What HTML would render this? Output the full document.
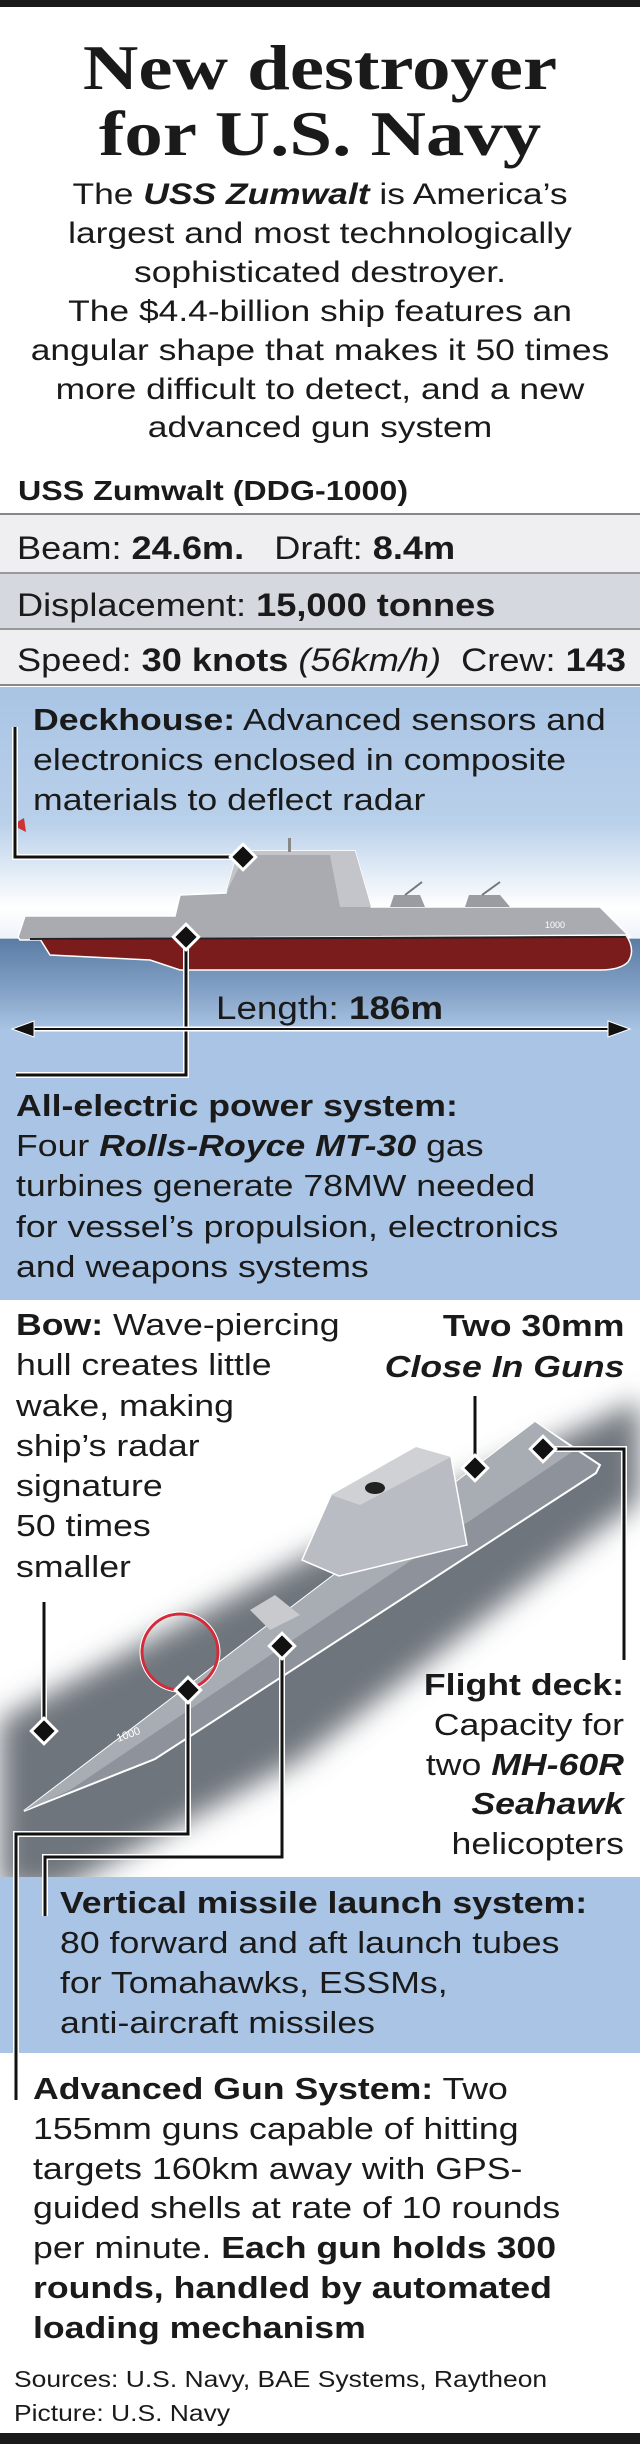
<!DOCTYPE html>
<html><head><meta charset="utf-8"><style>
body{margin:0;background:#fff;}
#w{position:relative;width:640px;height:2444px;overflow:hidden;font-family:"Liberation Sans",sans-serif;color:#1a1a1a;}
.t{position:absolute;white-space:nowrap;line-height:1;}
.r{font-size:32px;transform:scaleX(1.13);transform-origin:0 0;}
.L{transform:scaleX(1.15);transform-origin:0 0;}
.R{transform:scaleX(1.15);transform-origin:100% 0;}
b{font-weight:bold;}
</style></head><body><div id="w">
<svg width="640" height="2444" style="position:absolute;left:0;top:0">
<defs>
<linearGradient id="sky" x1="0" y1="687" x2="0" y2="1300" gradientUnits="userSpaceOnUse">
<stop offset="0" stop-color="#a9c4e4"/><stop offset="0.22" stop-color="#b9d0ea"/><stop offset="0.36" stop-color="#ffffff"/><stop offset="0.41" stop-color="#eef3fa"/><stop offset="0.411" stop-color="#5a7ca4"/><stop offset="0.5" stop-color="#86a4c8"/><stop offset="0.56" stop-color="#a9c4e4"/><stop offset="1" stop-color="#a9c4e4"/>
</linearGradient>
<filter id="bl"><feGaussianBlur stdDeviation="14"/></filter>
</defs>
<rect x="0" y="0" width="640" height="7" fill="#1a1a1a"/>
<rect x="0" y="513" width="640" height="2" fill="#888"/>
<rect x="0" y="515" width="640" height="57" fill="#efeff1"/>
<rect x="0" y="572" width="640" height="2" fill="#999"/>
<rect x="0" y="574" width="640" height="54" fill="#d5d8df"/>
<rect x="0" y="628" width="640" height="2" fill="#999"/>
<rect x="0" y="630" width="640" height="54" fill="#efeff1"/>
<rect x="0" y="684" width="640" height="2" fill="#888"/>
<rect x="0" y="687" width="640" height="613" fill="url(#sky)"/>
<polygon points="18,937 25,916 175,916 180,895 226,893 238,851 355,851 371,907 600,907 630,937 20,940" fill="#a9abb0" stroke="#fff" stroke-width="1.5"/>
<polygon points="226,893 238,851 355,851 371,907 340,907 330,855 245,855" fill="#c3c5ca"/>
<rect x="288" y="838" width="3" height="14" fill="#888"/>
<polygon points="390,907 394,895 420,895 425,907" fill="#9a9ca2"/>
<polygon points="465,907 469,895 500,895 510,907" fill="#9a9ca2"/>
<line x1="405" y1="895" x2="422" y2="882" stroke="#777" stroke-width="2"/>
<line x1="482" y1="895" x2="500" y2="882" stroke="#777" stroke-width="2"/>
<path d="M40,939 L626,935 Q636,950 628,962 Q620,970 600,970 L180,970 L150,960 L50,955 Z" fill="#7a1c1c" stroke="#fff" stroke-width="1.5"/>
<line x1="30" y1="939" x2="625" y2="937" stroke="#222" stroke-width="2"/>
<polygon points="12,825 24,818 26,832" fill="#c33"/>
<text x="545" y="928" font-size="9" fill="#fff" font-family="Liberation Sans">1000</text>
<polyline points="15,727 15,857 243,857" fill="none" stroke="#fff" stroke-width="6"/>
<polyline points="15,727 15,857 243,857" fill="none" stroke="#111" stroke-width="3"/>
<rect x="234" y="848" width="18" height="18" transform="rotate(45 243 857)" fill="#111" stroke="#fff" stroke-width="3"/>
<polyline points="186,937 186,1075 16,1075" fill="none" stroke="#fff" stroke-width="6"/>
<polyline points="186,937 186,1075 16,1075" fill="none" stroke="#111" stroke-width="3"/>
<rect x="177" y="928" width="18" height="18" transform="rotate(45 186 937)" fill="#111" stroke="#fff" stroke-width="3"/>
<line x1="22" y1="1029" x2="620" y2="1029" stroke="#fff" stroke-width="5"/>
<line x1="22" y1="1029" x2="620" y2="1029" stroke="#111" stroke-width="2"/>
<polygon points="12,1029 34,1021 34,1037" fill="#111" stroke="#fff" stroke-width="1"/>
<polygon points="630,1029 608,1021 608,1037" fill="#111" stroke="#fff" stroke-width="1"/>
<polygon points="640,1400 640,1500 560,1560 300,1760 60,1890 0,1890 0,1720 300,1560" fill="#6e747c" filter="url(#bl)"/>
<polygon points="24,1811 535,1422 600,1465 596,1473 155,1759" fill="#8e939b" stroke="#fff" stroke-width="2"/>
<polygon points="24,1811 535,1422 575,1450 70,1790" fill="#a8acb3"/>
<polygon points="302,1560 331,1495 416,1447 451,1457 467,1545 339,1576" fill="#b9bcc2" stroke="#fff" stroke-width="1.5"/>
<polygon points="331,1495 416,1447 451,1457 360,1505" fill="#cfd1d5"/>
<ellipse cx="375" cy="1488" rx="10" ry="6" fill="#222"/>
<polygon points="250,1610 275,1595 300,1615 270,1630" fill="#c8cace"/>
<text x="118" y="1742" font-size="11" fill="#fff" font-family="Liberation Sans" transform="rotate(-20 118 1742)">1000</text>
<circle cx="180" cy="1652" r="38" fill="none" stroke="#d52a3a" stroke-width="3"/>
<circle cx="180" cy="1652" r="40" fill="none" stroke="#fff" stroke-width="1"/>
<g fill="none">
<polyline points="475,1396 475,1468" stroke="#fff" stroke-width="6"/><polyline points="475,1396 475,1468" stroke="#111" stroke-width="3"/>
<polyline points="543,1449 624,1449 624,1660" stroke="#fff" stroke-width="6"/><polyline points="543,1449 624,1449 624,1660" stroke="#111" stroke-width="3"/>
<polyline points="44,1602 44,1731" stroke="#fff" stroke-width="6"/><polyline points="44,1602 44,1731" stroke="#111" stroke-width="3"/>
<polyline points="188,1690 188,1834 16,1834 16,2100" stroke="#fff" stroke-width="6"/><polyline points="188,1690 188,1834 16,1834 16,2100" stroke="#111" stroke-width="3"/>
</g>
<rect x="0" y="1877" width="640" height="176" fill="#a9c4e4"/>
<g fill="none">
<polyline points="282,1646 282,1857 45,1857 45,1916" stroke="#fff" stroke-width="6"/><polyline points="282,1646 282,1857 45,1857 45,1916" stroke="#111" stroke-width="3"/>
<polyline points="16,1860 16,2100" stroke="#fff" stroke-width="6"/><polyline points="16,1860 16,2100" stroke="#111" stroke-width="3"/>
</g>
<g fill="#111" stroke="#fff" stroke-width="3">
<rect x="466" y="1459" width="18" height="18" transform="rotate(45 475 1468)"/>
<rect x="534" y="1440" width="18" height="18" transform="rotate(45 543 1449)"/>
<rect x="35" y="1722" width="18" height="18" transform="rotate(45 44 1731)"/>
<rect x="179" y="1681" width="18" height="18" transform="rotate(45 188 1690)"/>
<rect x="273" y="1637" width="18" height="18" transform="rotate(45 282 1646)"/>
</g>
<rect x="0" y="2433" width="640" height="11" fill="#1a1a1a"/>
</svg>

<div class="t" style="left:0;width:640px;text-align:center;top:31px;font:bold 64px 'Liberation Serif',serif;transform:scaleX(1.2);transform-origin:50% 0">New destroyer</div>
<div class="t" style="left:0;width:640px;text-align:center;top:97px;font:bold 64px 'Liberation Serif',serif;transform:scaleX(1.2);transform-origin:50% 0">for U.S. Navy</div>
<div style="position:absolute;left:0;top:176px;width:640px;text-align:center;font-size:30px;line-height:38.9px;transform:scaleX(1.18);transform-origin:50% 0">The <b><i>USS Zumwalt</i></b> is America’s<br>largest and most technologically<br>sophisticated destroyer.<br>The $4.4-billion ship features an<br>angular shape that makes it 50 times<br>more difficult to detect, and a new<br>advanced gun system</div>
<div class="t L" style="left:18px;top:477px;font-size:28px;font-weight:bold">USS Zumwalt (DDG-1000)</div>
<div class="t r" style="left:17px;top:532px">Beam: <b>24.6m.</b>&nbsp;&nbsp; Draft: <b>8.4m</b></div>
<div class="t r" style="left:17px;top:589px">Displacement: <b>15,000 tonnes</b></div>
<div class="t r" style="left:17px;top:644px">Speed: <b>30 knots</b> <i>(56km/h)</i>&nbsp; Crew: <b>143</b></div>

<div class="L" style="position:absolute;left:33px;top:700px;font-size:31px;line-height:40px;white-space:nowrap"><b>Deckhouse:</b> Advanced sensors and<br>electronics enclosed in composite<br>materials to deflect radar</div>
<div class="t L" style="left:216px;top:992px;font-size:32px">Length: <b>186m</b></div>
<div class="L" style="position:absolute;left:16px;top:1086px;font-size:31px;line-height:40.2px;white-space:nowrap"><b>All-electric power system:</b><br>Four <b><i>Rolls-Royce MT-30</i></b> gas<br>turbines generate 78MW needed<br>for vessel’s propulsion, electronics<br>and weapons systems</div>

<div class="L" style="position:absolute;left:16px;top:1305px;font-size:31px;line-height:40.3px;white-space:nowrap"><b>Bow:</b> Wave-piercing<br>hull creates little<br>wake, making<br>ship’s radar<br>signature<br>50 times<br>smaller</div>
<div class="R" style="position:absolute;right:16px;top:1305px;font-size:31px;line-height:41px;text-align:right;white-space:nowrap;font-weight:bold">Two 30mm<br><i>Close In Guns</i></div>
<div class="R" style="position:absolute;right:16px;top:1665px;font-size:31px;line-height:39.8px;text-align:right;white-space:nowrap"><b>Flight deck:</b><br>Capacity for<br>two <b><i>MH-60R</i></b><br><b><i>Seahawk</i></b><br>helicopters</div>

<div class="L" style="position:absolute;left:60px;top:1883px;font-size:31px;line-height:40px;white-space:nowrap"><b>Vertical missile launch system:</b><br>80 forward and aft launch tubes<br>for Tomahawks, ESSMs,<br>anti-aircraft missiles</div>
<div class="L" style="position:absolute;left:33px;top:2069px;font-size:31px;line-height:39.8px;white-space:nowrap"><b>Advanced Gun System:</b> Two<br>155mm guns capable of hitting<br>targets 160km away with GPS-<br>guided shells at rate of 10 rounds<br>per minute. <b>Each gun holds 300<br>rounds, handled by automated<br>loading mechanism</b></div>
<div class="L" style="position:absolute;left:14px;top:2362px;font-size:23px;line-height:34px;white-space:nowrap">Sources: U.S. Navy, BAE Systems, Raytheon<br>Picture: U.S. Navy</div>
</div></body></html>
